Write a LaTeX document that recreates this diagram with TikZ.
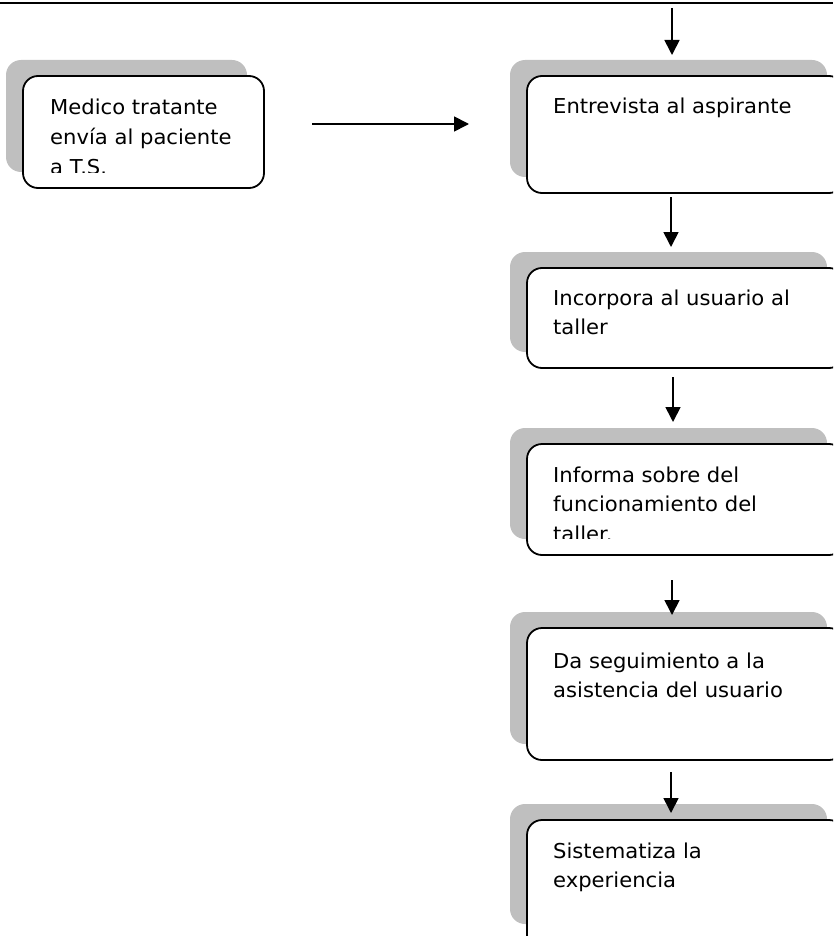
\documentclass[tikz,border=0pt]{standalone}
\usepackage{fontspec}
\setmainfont{DejaVu Sans}[FakeStretch=1.03]
\usetikzlibrary{arrows.meta}
\definecolor{shadowgray}{RGB}{191,191,191}
\begin{document}
\begin{tikzpicture}[x=1pt,y=-1pt,
  box/.style={draw=black, line width=1.8pt, rounded corners=15pt, fill=white, rectangle, inner sep=0pt},
  shadowbox/.style={fill=shadowgray, rounded corners=15pt},
  txt/.style={anchor=base west, align=left, inner sep=0pt, font=\fontsize{20.5}{29.5}\selectfont},
  arr/.style={line width=1.7pt, -{Triangle[length=15pt,width=15pt]}}]
\useasboundingbox (0,0) rectangle (833,936);
\clip (0,0) rectangle (833,936);
% top rule
\coordinate (tl) at (0,3);
\coordinate (tr) at (833,3);
\draw[line width=2.6pt] (tl) -- (tr);

% box 1
\fill[shadowbox] (6,60) rectangle (247,172);
\node[box, minimum width=241pt, minimum height=112pt] (b1) at (143.5,132) {};
\begin{scope}
\clip (23,76) rectangle (264,173);
\node[txt, font=\fontsize{20.5}{30}\selectfont] (t1) at (50,174.5) {Medico tratante\\envía al paciente\\a T.S.};
\end{scope}

% box 2
\fill[shadowbox] (510,60) rectangle (827,177);
\node[box, minimum width=317pt, minimum height=117pt] (b2) at (685.5,134.5) {};
\node[txt] (t2) at (553,114) {Entrevista al aspirante};

% box 3
\fill[shadowbox] (510,252) rectangle (827,352);
\node[box, minimum width=317pt, minimum height=100pt] (b3) at (685.5,318) {};
\node[txt] (t3) at (553,334.5) {Incorpora al usuario al\\taller};

% box 4
\fill[shadowbox] (510,428) rectangle (827,539);
\node[box, minimum width=317pt, minimum height=111pt] (b4) at (685.5,499.5) {};
\begin{scope}
\clip (527,444) rectangle (844,538);
\node[txt] (t4) at (553,541) {Informa sobre del\\funcionamiento del\\taller.};
\end{scope}

% box 5
\fill[shadowbox] (510,612) rectangle (827,744);
\node[box, minimum width=317pt, minimum height=132pt] (b5) at (685.5,694) {};
\node[txt] (t5) at (553,697.5) {Da seguimiento a la\\asistencia del usuario};

% box 6
\fill[shadowbox] (510,804) rectangle (827,924);
\node[box, minimum width=317pt, minimum height=130pt] (b6) at (685.5,885) {};
\node[txt] (t6) at (553,887.5) {Sistematiza la\\experiencia};

% arrows
\coordinate (a0s) at (672,8);   \coordinate (a0e) at (672,55);
\coordinate (a1s) at (312,124); \coordinate (a1e) at (469,124);
\coordinate (a2s) at (671,197); \coordinate (a2e) at (671,247);
\coordinate (a3s) at (673,377); \coordinate (a3e) at (673,422);
\coordinate (a4s) at (672,580); \coordinate (a4e) at (672,615);
\coordinate (a5s) at (671,772); \coordinate (a5e) at (671,813);
\draw[arr] (a0s) -- (a0e);
\draw[arr] (a1s) -- (a1e);
\draw[arr] (a2s) -- (a2e);
\draw[arr] (a3s) -- (a3e);
\draw[arr] (a4s) -- (a4e);
\draw[arr] (a5s) -- (a5e);
\end{tikzpicture}
\end{document}
